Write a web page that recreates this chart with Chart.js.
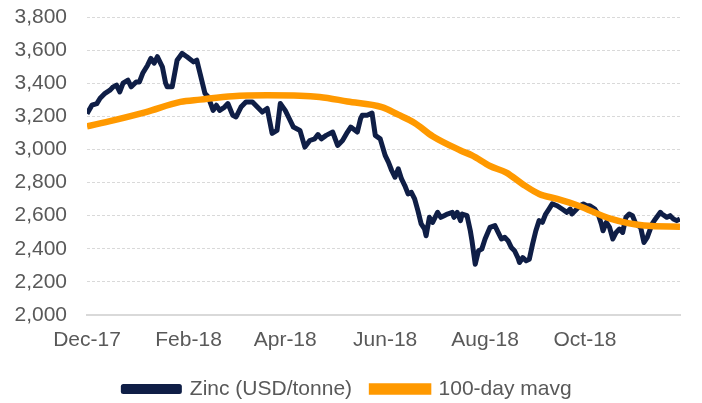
<!DOCTYPE html>
<html>
<body style="margin:0;background:#fff">
<div style="width:702px;height:403px"><canvas id="zincChart"></canvas></div>
<script src="https://cdn.jsdelivr.net/npm/chart.js@4.4.0/dist/chart.umd.min.js"></script>
<script>
const zincDates = [
  '2017-12-01','2017-12-04','2017-12-07','2017-12-09','2017-12-12','2017-12-15','2017-12-17','2017-12-19','2017-12-21','2017-12-23',
  '2017-12-26','2017-12-28','2017-12-31','2018-01-02','2018-01-04','2018-01-07','2018-01-09','2018-01-11','2018-01-13','2018-01-16',
  '2018-01-18','2018-01-19','2018-01-22','2018-01-25','2018-01-28','2018-01-31','2018-02-04','2018-02-06','2018-02-08','2018-02-11',
  '2018-02-13','2018-02-16','2018-02-18','2018-02-20','2018-02-23','2018-02-25','2018-02-28','2018-03-02','2018-03-05','2018-03-08',
  '2018-03-12','2018-03-15','2018-03-18','2018-03-21','2018-03-24','2018-03-27','2018-03-29','2018-04-01','2018-04-03','2018-04-06',
  '2018-04-10','2018-04-13','2018-04-16','2018-04-19','2018-04-21','2018-04-23','2018-04-26','2018-04-30','2018-05-03','2018-05-06',
  '2018-05-09','2018-05-11','2018-05-15','2018-05-17','2018-05-18','2018-05-21','2018-05-24','2018-05-26','2018-05-29','2018-06-01',
  '2018-06-03','2018-06-05','2018-06-07','2018-06-09','2018-06-11','2018-06-13','2018-06-15','2018-06-17','2018-06-19','2018-06-21',
  '2018-06-23','2018-06-25','2018-06-26','2018-06-28','2018-06-30','2018-07-03','2018-07-05','2018-07-07','2018-07-09','2018-07-12',
  '2018-07-13','2018-07-15','2018-07-17','2018-07-18','2018-07-21','2018-07-23','2018-07-24','2018-07-26','2018-07-28','2018-07-30',
  '2018-08-01','2018-08-04','2018-08-07','2018-08-09','2018-08-11','2018-08-13','2018-08-15','2018-08-17','2018-08-19','2018-08-21',
  '2018-08-22','2018-08-24','2018-08-26','2018-08-28','2018-08-30','2018-09-01','2018-09-03','2018-09-05','2018-09-07','2018-09-09',
  '2018-09-11','2018-09-14','2018-09-17','2018-09-20','2018-09-22','2018-09-23','2018-09-26','2018-09-28','2018-09-30','2018-10-02',
  '2018-10-04','2018-10-07','2018-10-09','2018-10-11','2018-10-12','2018-10-14','2018-10-16','2018-10-18','2018-10-20','2018-10-22',
  '2018-10-24','2018-10-26','2018-10-28','2018-10-30','2018-11-01','2018-11-04','2018-11-06','2018-11-08','2018-11-11','2018-11-13',
  '2018-11-16','2018-11-17','2018-11-20','2018-11-22','2018-11-24','2018-11-26','2018-11-28'
];
const zincValues = [
  3216,3267,3277,3309,3339,3358,3378,3388,3347,3400,
  3418,3378,3408,3408,3460,3509,3550,3521,3560,3499,
  3400,3378,3378,3539,3580,3560,3529,3539,3460,3339,
  3317,3236,3267,3236,3256,3277,3206,3196,3256,3287,
  3287,3256,3226,3248,3097,3115,3277,3236,3196,3135,
  3115,3014,3054,3064,3090,3064,3085,3105,3024,3054,
  3105,3135,3105,3186,3206,3206,3220,3085,3064,2964,
  2923,2873,2832,2883,2822,2782,2732,2741,2701,2630,
  2550,2521,2479,2590,2560,2620,2590,2600,2610,2620,
  2590,2620,2570,2610,2600,2509,2449,2307,2388,2398,
  2459,2529,2540,2499,2459,2469,2449,2408,2388,2347,
  2317,2347,2327,2337,2428,2509,2570,2560,2610,2640,
  2671,2660,2640,2620,2640,2610,2640,2660,2671,2660,
  2660,2640,2610,2550,2509,2560,2529,2459,2499,2519,
  2499,2590,2610,2600,2550,2529,2438,2469,2550,2580,
  2620,2610,2590,2600,2580,2570,2580
];
const mavgDates = [
  '2017-12-01','2017-12-17','2018-01-06','2018-01-27','2018-02-08','2018-02-28','2018-03-21','2018-04-10','2018-04-22','2018-05-09',
  '2018-05-30','2018-06-09','2018-06-19','2018-06-30','2018-07-17','2018-07-24','2018-08-04','2018-08-14','2018-08-24','2018-09-03',
  '2018-09-14','2018-09-27','2018-10-17','2018-11-06','2018-11-28'
];
const mavgValues = [
  3140,3176,3226,3287,3301,3322,3327,3325,3317,3290,
  3256,3210,3160,3080,2994,2964,2900,2860,2790,2731,
  2701,2660,2580,2540,2533
];
const tickDates = ['2017-12-01','2018-02-01','2018-04-01','2018-06-01','2018-08-01','2018-10-01'];
const tickLabels = ['Dec-17','Feb-18','Apr-18','Jun-18','Aug-18','Oct-18'];

// days since the first date, so the x axis keeps real calendar spacing
const start = Date.parse(zincDates[0]);
const dayOf = d => Math.round((Date.parse(d) - start) / 86400000);
const tickDays = tickDates.map(dayOf);

const font = {family: '"Liberation Sans", Arial, sans-serif', size: 21};
const textColor = '#595959';

new Chart('zincChart', {
  type: 'line',
  data: {
    datasets: [{
      label: 'Zinc (USD/tonne)',
      data: zincDates.map((d, i) => ({x: dayOf(d), y: zincValues[i]})),
      borderColor: '#0f1e46',
      backgroundColor: '#0f1e46',
      borderWidth: 5,
      borderJoinStyle: 'round',
      pointRadius: 0,
      order: 1
    }, {
      label: '100-day mavg',
      data: mavgDates.map((d, i) => ({x: dayOf(d), y: mavgValues[i]})),
      borderColor: '#ff9900',
      backgroundColor: '#ff9900',
      borderWidth: 6.5,
      cubicInterpolationMode: 'monotone',
      pointRadius: 0,
      order: 0
    }]
  },
  options: {
    responsive: true,
    maintainAspectRatio: false,
    animation: false,
    layout: {padding: {left: 15, right: 22, top: 17, bottom: -6.5}},
    plugins: {
      tooltip: {enabled: false},
      legend: {
        position: 'bottom',
        reverse: true,
        labels: {boxWidth: 56, boxHeight: 5, padding: 20, color: textColor, font: font}
      }
    },
    scales: {
      x: {
        type: 'linear',
        min: 0,
        max: dayOf(zincDates[zincDates.length - 1]),
        grid: {display: false, drawTicks: false},
        border: {display: true, color: '#d9d9d9', width: 2},
        afterBuildTicks: s => { s.ticks = tickDays.map(v => ({value: v})); },
        afterFit: s => { s.height = 43.5; },
        ticks: {
          autoSkip: false,
          maxRotation: 0,
          padding: 13,
          color: textColor,
          font: font,
          callback: v => tickLabels[tickDays.indexOf(v)]
        }
      },
      y: {
        min: 2000,
        max: 3800,
        afterFit: s => { s.width = 72; s.paddingTop = 0; s.paddingBottom = 0; },
        grid: {color: '#d9d9d9', lineWidth: 1, drawTicks: false},
        border: {display: false, dash: [3, 2]},
        ticks: {
          stepSize: 200,
          padding: 20,
          color: textColor,
          font: font,
          callback: v => v.toLocaleString('en-US')
        }
      }
    }
  }
});
</script>
</body>
</html>
